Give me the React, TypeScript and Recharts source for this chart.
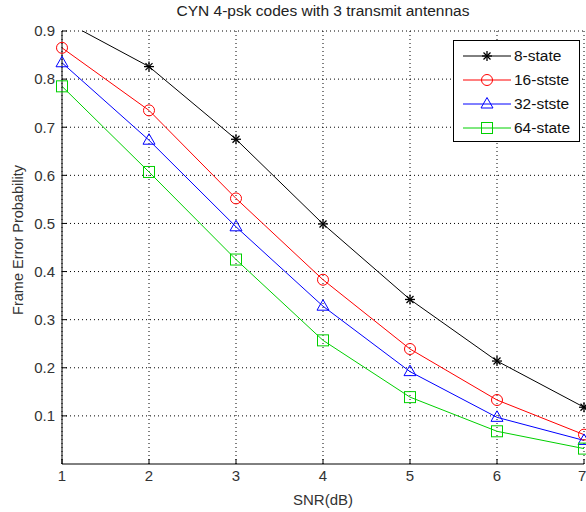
import { CartesianGrid, Line, LineChart, XAxis, YAxis } from "recharts";

const snr = [1, 2, 3, 4, 5, 6, 7];
const state8 = [0.923, 0.826, 0.675, 0.499, 0.342, 0.214, 0.118];
const state16 = [0.865, 0.735, 0.552, 0.383, 0.239, 0.133, 0.061];
const state32 = [0.834, 0.673, 0.493, 0.328, 0.192, 0.097, 0.049];
const state64 = [0.785, 0.607, 0.425, 0.257, 0.139, 0.068, 0.032];
const xTicks = [1, 2, 3, 4, 5, 6, 7];
const yTicks = [0.1, 0.2, 0.3, 0.4, 0.5, 0.6, 0.7, 0.8, 0.9];

const data = snr.map((x, i) => ({
  snr: x,
  s8: state8[i],
  s16: state16[i],
  s32: state32[i],
  s64: state64[i],
}));

const series = [
  { key: "s8", name: "8-state", color: "#000000", marker: "star" },
  { key: "s16", name: "16-stste", color: "#ff0000", marker: "circle" },
  { key: "s32", name: "32-stste", color: "#0000ff", marker: "triangle" },
  { key: "s64", name: "64-state", color: "#00d000", marker: "square" },
];

const YMAX = 0.9;
const font = "'Liberation Sans', Arial, sans-serif";
const textColor = "#333";

function Marker({ type, cx, cy, color }: any) {
  if (type === "star") {
    const r = 5;
    const d = r * 0.7;
    return (
      <g stroke={color} strokeWidth={1.3}>
        <line x1={cx - r} y1={cy} x2={cx + r} y2={cy} />
        <line x1={cx} y1={cy - r} x2={cx} y2={cy + r} />
        <line x1={cx - d} y1={cy - d} x2={cx + d} y2={cy + d} />
        <line x1={cx - d} y1={cy + d} x2={cx + d} y2={cy - d} />
      </g>
    );
  }
  if (type === "circle") {
    return <circle cx={cx} cy={cy} r={5.5} fill="none" stroke={color} strokeWidth={1} />;
  }
  if (type === "triangle") {
    return (
      <polygon
        points={`${cx},${cy - 6.5} ${cx - 6},${cy + 4} ${cx + 6},${cy + 4}`}
        fill="none"
        stroke={color}
        strokeWidth={1}
      />
    );
  }
  return (
    <rect x={cx - 5.5} y={cy - 5.5} width={11} height={11} fill="none" stroke={color} strokeWidth={1} />
  );
}

function makeDot(s: any) {
  return (props: any) => {
    const { cx, cy, value, index } = props;
    const v = Array.isArray(value) ? value[1] : value;
    if (v > YMAX || cx == null || cy == null) return <g key={`${s.key}-${index}`} />;
    return (
      <g key={`${s.key}-${index}`}>
        <Marker type={s.marker} cx={cx} cy={cy} color={s.color} />
      </g>
    );
  };
}

function LegendBox() {
  return (
    <div
      style={{
        position: "absolute",
        top: 40,
        left: 453,
        width: 127,
        height: 102,
        border: "1px solid #000",
        background: "#fff",
        boxSizing: "border-box",
        paddingTop: 3,
        fontFamily: font,
        fontSize: 15.5,
      }}
    >
      {series.map((s) => (
        <div key={s.key} style={{ display: "flex", alignItems: "center", height: 24 }}>
          <svg width={52} height={24} style={{ marginLeft: 8, flexShrink: 0 }}>
            <line x1={1} y1={12} x2={49} y2={12} stroke={s.color} strokeWidth={1} />
            <Marker type={s.marker} cx={25} cy={12} color={s.color} />
          </svg>
          <span style={{ color: "#111", whiteSpace: "nowrap" }}>{s.name}</span>
        </div>
      ))}
    </div>
  );
}

export default function App() {
  return (
    <div style={{ position: "absolute", left: 0, top: 0, width: 586, height: 512, background: "#fff" }}>
      <div
        style={{
          position: "absolute",
          top: 2,
          left: 62,
          width: 522,
          textAlign: "center",
          fontFamily: font,
          fontSize: 15.5,
          color: "#222",
          whiteSpace: "nowrap",
        }}
      >
        CYN 4-psk codes with 3 transmit antennas
      </div>
      <div
        style={{
          position: "absolute",
          left: 18,
          top: 240,
          transform: "translate(-50%, -50%) rotate(-90deg)",
          fontFamily: font,
          fontSize: 14.5,
          color: textColor,
          whiteSpace: "nowrap",
        }}
      >
        Frame Error Probability
      </div>
      <LineChart
        width={586}
        height={512}
        data={data}
        margin={{ top: 31, right: 2, left: 22, bottom: 18 }}
        style={{ fontFamily: font }}
      >
        <CartesianGrid
          stroke="#000"
          strokeDasharray="1 3"
          horizontalValues={yTicks}
          verticalValues={xTicks}
        />
        <XAxis
          dataKey="snr"
          type="number"
          domain={[1, 7]}
          ticks={xTicks}
          height={30}
          stroke="#000"
          tickSize={-5}
          tickMargin={11}
          tick={{ fill: textColor, fontSize: 15 }}
          label={{ value: "SNR(dB)", position: "bottom", offset: 0, fill: textColor, fontSize: 15 }}
        />
        <XAxis
          xAxisId="top"
          dataKey="snr"
          type="number"
          orientation="top"
          domain={[1, 7]}
          ticks={xTicks}
          height={0}
          stroke="#000"
          tickSize={-5}
          tickFormatter={() => ""}
        />
        <YAxis
          type="number"
          domain={[0, YMAX]}
          allowDataOverflow
          ticks={yTicks}
          width={40}
          stroke="#000"
          tickSize={-5}
          tickMargin={12}
          tick={{ fill: textColor, fontSize: 15 }}
        />
        <YAxis
          yAxisId="right"
          orientation="right"
          type="number"
          domain={[0, YMAX]}
          ticks={yTicks}
          width={0}
          stroke="#000"
          tickSize={-5}
          tickFormatter={() => ""}
        />
        {series.map((s) => (
          <Line
            key={s.key}
            dataKey={s.key}
            name={s.name}
            stroke={s.color}
            strokeWidth={1}
            type="linear"
            dot={makeDot(s)}
            activeDot={false}
            isAnimationActive={false}
          />
        ))}
      </LineChart>
      <LegendBox />
    </div>
  );
}
